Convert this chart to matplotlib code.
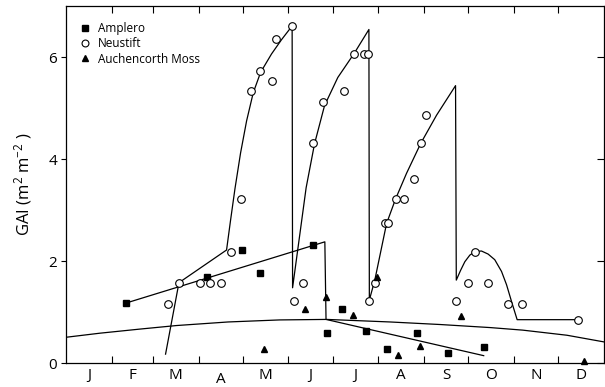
import matplotlib
matplotlib.use("Agg")
import matplotlib.pyplot as plt
from matplotlib.transforms import ScaledTranslation

plt.rcParams['font.family'] = ['Open Sans', 'DejaVu Sans']
plt.rcParams['mathtext.default'] = 'regular'

# month axis (day of year)
month_starts = [31, 59, 90, 120, 151, 181, 212, 243, 273, 304, 334]
month_mids = [15.5, 45, 74.5, 105, 135.5, 166, 196.5, 227.5, 258, 288.5, 319, 349.5]
month_labels = ['J', 'F', 'M', 'A', 'M', 'J', 'J', 'A', 'S', 'O', 'N', 'D']

# measured GAI
amp_day = [40.7, 95.7, 119.6, 131.6, 167.8, 176.9, 187.5, 203.5, 217.6, 238.3, 259.6, 283.6]
amp_gai = [1.18, 1.69, 2.22, 1.76, 2.32, 0.59, 1.06, 0.63, 0.29, 0.59, 0.20, 0.31]

neu_day = [69.4, 76.7, 90.7, 97.7, 105.0, 111.7, 118.5, 125.5, 131.6, 139.6, 142.5, 153.5,
           154.5, 160.6, 167.6, 174.5, 188.5, 195.7, 202.3, 205.0, 205.6, 209.6, 216.6, 218.8,
           223.7, 229.6, 236.5, 240.7, 244.6, 264.5, 272.7, 277.7, 286.6, 299.7, 309.6, 347.6]
neu_gai = [1.16, 1.58, 1.58, 1.58, 1.58, 2.19, 3.21, 5.34, 5.73, 5.54, 6.35, 6.60,
           1.23, 1.57, 4.31, 5.12, 5.34, 6.06, 6.06, 6.06, 1.23, 1.57, 2.74, 2.74,
           3.21, 3.21, 3.61, 4.31, 4.87, 1.23, 1.57, 2.19, 1.57, 1.16, 1.16, 0.855]

auc_day = [134.5, 162.3, 176.4, 194.5, 211.4, 225.4, 240.0, 267.8, 351.4]
auc_gai = [0.28, 1.06, 1.29, 0.95, 1.70, 0.17, 0.33, 0.93, 0.05]

# fitted lines
amp_fit_day = [40.7, 175.7, 176.5, 283.5]
amp_fit_gai = [1.18, 2.38, 0.86, 0.15]

neu_fit_day = [67.6, 76.7, 109.0, 111.7, 114.7, 118.5, 122.6, 127.1, 132.1, 139.5, 146.3, 153.5,
               153.8, 158.5, 163.0, 168.7, 175.5, 184.5, 195.8, 205.6,
               205.9, 209.6, 217.6, 223.7, 231.1, 240.8, 251.5, 264.4,
               264.9, 267.8, 270.7, 274.1, 277.7, 282.0, 286.5, 291.0, 295.6, 299.0, 302.4,
               306.2, 347.6]
neu_fit_gai = [0.18, 1.58, 2.22, 2.80, 3.42, 4.12, 4.75, 5.30, 5.70, 6.06, 6.34, 6.61,
               1.48, 2.48, 3.44, 4.30, 5.05, 5.60, 6.08, 6.54,
               1.24, 1.63, 2.74, 3.22, 3.72, 4.31, 4.86, 5.44,
               1.63, 1.82, 1.99, 2.12, 2.19, 2.20, 2.14, 2.03, 1.80, 1.54, 1.21,
               0.855, 0.855]

auc_fit_day = [0, 23, 50, 75, 110, 145, 177, 220, 254, 288, 310, 340, 365]
auc_fit_gai = [0.51, 0.59, 0.67, 0.74, 0.81, 0.85, 0.86, 0.81, 0.76, 0.70, 0.65, 0.55, 0.42]

fig = plt.figure(figsize=(6.05, 3.87), dpi=100)
ax = fig.add_axes([0.109, 0.0612, 0.889, 0.9233])

lw = 0.9
ax.plot(auc_fit_day, auc_fit_gai, color='black', lw=lw)
ax.plot(amp_fit_day, amp_fit_gai, color='black', lw=lw)
ax.plot(neu_fit_day, neu_fit_gai, color='black', lw=lw)

h1, = ax.plot(amp_day, amp_gai, 's', color='black', ms=5, ls='none', label='Amplero')
h2, = ax.plot(neu_day, neu_gai, 'o', mfc='white', mec='black', mew=0.8, ms=5.5, ls='none',
              label='Neustift')
h3, = ax.plot(auc_day, auc_gai, '^', color='black', ms=5, ls='none', label='Auchencorth Moss',
              clip_on=False)

ax.set_xlim(0, 365)
ax.set_ylim(0, 7)

ax.set_xticks(month_starts)
ax.set_xticklabels([])
ax.set_xticks(month_mids, minor=True)
ax.set_xticklabels(month_labels, minor=True, fontsize=11)
ax.tick_params(axis='x', which='major', direction='in', length=5, width=0.8, top=True)
ax.tick_params(axis='x', which='minor', length=0, pad=3.5)

# April label sits a little lower in the original
lab = ax.xaxis.get_minorticklabels()[3]
lab.set_transform(lab.get_transform() + ScaledTranslation(0, -2.5 / 72, fig.dpi_scale_trans))

ax.set_yticks([0, 2, 4, 6])
ax.tick_params(axis='y', direction='out', length=3.5, width=0.8, labelsize=11, pad=3)

sec = ax.secondary_yaxis('right')
sec.set_yticks([0, 2, 4, 6])
sec.tick_params(direction='in', length=5, width=0.8, labelright=False)
sec.spines['right'].set_visible(False)

for s in ax.spines.values():
    s.set_linewidth(0.9)

ax.set_ylabel('GAI (m$^2$ m$^{-2}$ )', fontsize=12, labelpad=10)

ax.legend(handles=[h1, h2, h3], loc='upper left', bbox_to_anchor=(0.014, 0.972),
          frameon=False, fontsize=8.5, handlelength=1.0, handletextpad=0.6,
          labelspacing=0.2, borderpad=0, markerscale=0.9)

fig.savefig('out.png', dpi=100)
